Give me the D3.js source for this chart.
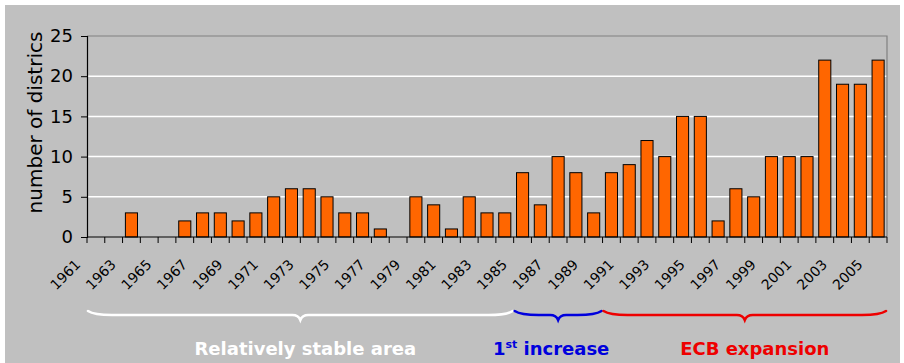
<!DOCTYPE html>
<html>
<head>
<meta charset="utf-8">
<script src="https://cdn.jsdelivr.net/npm/d3@7"></script>
<style>
  body { margin: 0; background: #fff; }
  svg { display: block; }
</style>
</head>
<body>
<div id="chart"></div>
<script>
// data
const years = d3.range(1961, 2006).map(String);
const districts = [0, 0, 3, 0, 0, 2, 3, 3, 2, 3, 5, 6, 6, 5, 3, 3, 1, 0, 5, 4,
                   1, 5, 3, 3, 8, 4, 10, 8, 3, 8, 9, 12, 10, 15, 15, 2, 6, 5, 10, 10,
                   10, 22, 19, 19, 22];
const yTicks = [0, 5, 10, 15, 20, 25];
const periods = [
  { label: "Relatively stable area", from: "1961", to: "1984", color: "#ffffff" },
  { label: "1st increase", from: "1985", to: "1989", color: "#0000dd" },
  { label: "ECB expansion", from: "1990", to: "2005", color: "#ee0000" }
];

const width = 904, height = 363;
const margin = { top: 36, right: 15, bottom: 126, left: 87 };

const svg = d3.select("#chart").append("svg")
    .attr("width", width)
    .attr("height", height);

// gray background
svg.append("rect")
    .attr("x", 5).attr("y", 5)
    .attr("width", 895).attr("height", height - 5)
    .attr("fill", "#c0c0c0");

const x = d3.scaleBand()
    .domain(years)
    .range([margin.left, width - margin.right - 2])
    .paddingInner(0.32)
    .paddingOuter(0.16);

const y = d3.scaleLinear()
    .domain([0, 25])
    .range([height - margin.bottom, margin.top]);

const x0 = margin.left, x1 = width - margin.right - 2;

// gridlines
svg.append("g")
  .selectAll("line")
  .data(yTicks.filter(d => d > 0 && d < 25))
  .join("line")
    .attr("x1", x0).attr("x2", x1)
    .attr("y1", d => y(d)).attr("y2", d => y(d))
    .attr("stroke", "#fff")
    .attr("stroke-width", 1.5);

// plot border top / right
svg.append("path")
    .attr("d", `M${x0},${y(25)}H${x1}V${y(0)}`)
    .attr("fill", "none")
    .attr("stroke", "#808080")
    .attr("stroke-width", 1.2);

// bars
svg.append("g")
  .selectAll("rect")
  .data(districts)
  .join("rect")
    .attr("x", (d, i) => x(years[i]))
    .attr("y", d => y(d))
    .attr("width", x.bandwidth())
    .attr("height", d => y(0) - y(d))
    .attr("fill", "#ff6600")
    .attr("stroke", "#000")
    .attr("stroke-width", 1);

// x axis: ticks on category boundaries
const bounds = d3.range(years.length + 1).map(i => x0 + i * (x1 - x0) / years.length);
const xAxis = svg.append("g");
xAxis.append("line")
    .attr("x1", x0).attr("x2", x1)
    .attr("y1", y(0)).attr("y2", y(0))
    .attr("stroke", "#000").attr("stroke-width", 1.2);
xAxis.selectAll("line.tick")
  .data(bounds)
  .join("line")
    .attr("class", "tick")
    .attr("x1", d => d).attr("x2", d => d)
    .attr("y1", y(0)).attr("y2", y(0) + 6)
    .attr("stroke", "#000");

xAxis.selectAll("text")
  .data(years.filter((d, i) => i % 2 === 0))
  .join("text")
    .attr("transform", d => `translate(${x(d) + x.bandwidth() / 2 - 18},${y(0) + 25}) rotate(-45)`)
    .attr("text-anchor", "end")
    .attr("dy", "0.35em")
    .attr("font-family", "DejaVu Sans, sans-serif")
    .attr("font-size", 14)
    .attr("fill", "#000")
    .text(d => d);

// y axis
const yAxis = svg.append("g")
    .attr("transform", `translate(${x0},0)`)
    .call(d3.axisLeft(y).tickValues(yTicks).tickSize(6).tickPadding(8));
yAxis.select(".domain").attr("stroke", "#000").attr("stroke-width", 1.2);
yAxis.selectAll("text")
    .attr("font-family", "DejaVu Sans, sans-serif")
    .attr("font-size", 18)
    .attr("fill", "#000");

svg.append("text")
    .attr("transform", `translate(42,${(y(0) + y(25)) / 2 - 14}) rotate(-90)`)
    .attr("text-anchor", "middle")
    .attr("font-family", "DejaVu Sans, sans-serif")
    .attr("font-size", 20)
    .attr("fill", "#000")
    .text("number of districs");

// braces under the axis
function brace(xa, xb, yTop, depth) {
  const xm = (xa + xb) / 2;
  const yl = yTop + depth * 0.45;
  return `M${xa},${yTop} Q${xa + 6},${yl} ${xa + 24},${yl}` +
         ` L${xm - 8},${yl} Q${xm - 2},${yl} ${xm},${yTop + depth}` +
         ` Q${xm + 2},${yl} ${xm + 8},${yl}` +
         ` L${xb - 24},${yl} Q${xb - 6},${yl} ${xb},${yTop}`;
}

const braceG = svg.append("g");
periods.forEach((p, i) => {
  const xa = x(p.from) - x.step() * x.paddingInner() / 2;
  const xb = x(p.to) + x.bandwidth() + x.step() * x.paddingInner() / 2;
  braceG.append("path")
      .attr("d", brace(xa + 1, xb - 1, 311, 9))
      .attr("fill", "none")
      .attr("stroke", p.color)
      .attr("stroke-width", 2.6)
      .attr("stroke-linecap", "round");
  // labels sit a little off the brace tip, as in the original slide
  const shift = [5, -7, 10][i];
  const t = braceG.append("text")
      .attr("x", (xa + xb) / 2 + shift)
      .attr("y", 355)
      .attr("text-anchor", "middle")
      .attr("font-family", "DejaVu Sans, sans-serif")
      .attr("font-weight", "bold")
      .attr("font-size", 18)
      .attr("fill", p.color);
  if (p.label === "1st increase") {
    t.append("tspan").text("1");
    t.append("tspan").attr("dy", -7).attr("font-size", 11).text("st");
    t.append("tspan").attr("dy", 7).text(" increase");
  } else {
    t.text(p.label);
  }
});
</script>
</body>
</html>
